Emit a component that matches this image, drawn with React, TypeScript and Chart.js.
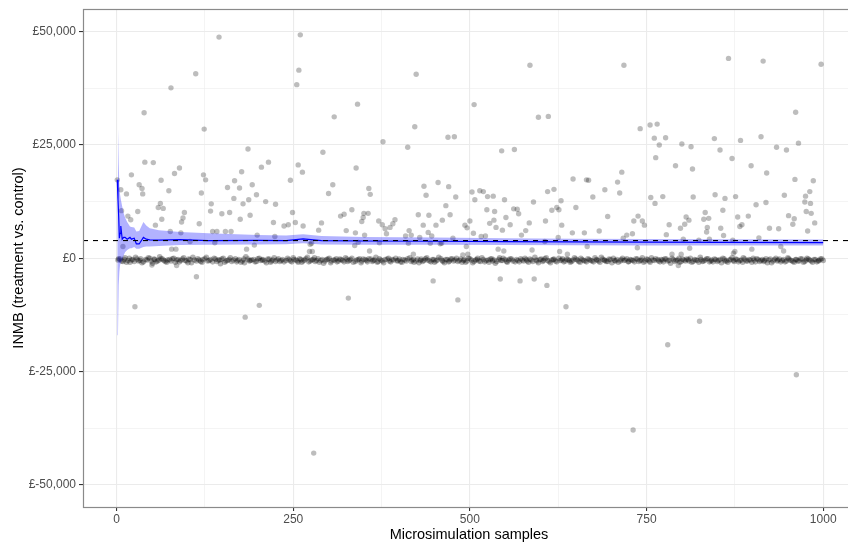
import React, { useEffect, useRef } from "react";
import { Chart, registerables } from "chart.js";

Chart.register(...registerables);

// ---- Axis ticks ----
const xMajorTicks = [0, 250, 500, 750, 1000];
const xMinorTicks = [125, 375, 625, 875];
const yMajorTicks = [-50000, -25000, 0, 25000, 50000];
const yMinorTicks = [-37500, -12500, 12500, 37500];

// ---- Reference line (dashed) ----
const thresholdValue = 3900;

// ---- Running mean and its interval [sample index] ----
const ciSamples = [1, 2, 3, 4, 5, 6, 8, 10, 12, 15, 19, 21, 25, 28, 32, 38, 42, 47, 60, 90, 130, 200, 240, 264, 290, 350, 450, 550, 650, 750, 850, 1000];
const meanValues = [17300, 13000, 9200, 4400, 5500, 7100, 4200, 4600, 4600, 4200, 4600, 4200, 4400, 3150, 3150, 4600, 4200, 4050, 4000, 4100, 3900, 3950, 3900, 4250, 3900, 3800, 3750, 3650, 3600, 3550, 3500, 3450];
const ciLower = [17300, -17000, -6000, -3000, -1500, -1000, -400, 600, 1300, 1800, 2200, 2200, 2500, 2100, 2100, 2500, 2600, 2600, 2700, 2900, 3000, 3050, 3100, 3300, 3050, 3000, 2950, 2900, 2850, 2800, 2800, 2800];
const ciUpper = [17300, 29000, 21000, 16000, 14000, 13000, 11400, 10000, 9000, 8000, 7000, 6900, 6800, 5900, 6000, 8000, 7200, 6600, 6200, 5800, 5500, 5150, 5000, 5300, 4900, 4700, 4550, 4400, 4300, 4250, 4200, 4150];

// ---- Samples away from zero [sample, INMB £] ----
const spreadSamples: [number, number][] = [
  [1, 17300], [6, 15100], [7, 10500], [9, 2600], [14, 14200], [16, 9300], [20, 8500], [21, 18400], [30, 10300], [32, 16200],
  [36, 15400], [37, 14200], [39, 32100], [40, 21200], [52, 21100], [55, 7300], [59, 11200], [62, 12100], [63, 17200], [64, 8600],
  [66, 11000], [74, 14900], [76, 5900], [77, 37600], [78, 2000], [82, 18700], [84, 2000], [89, 19900], [91, 5600], [92, 8000],
  [94, 8900], [96, 10100], [104, 3700], [112, 40700], [117, 7600], [120, 14400], [123, 18400], [124, 28500], [126, 17300], [133, 10400],
  [134, 12000], [136, 5900], [139, 3400], [142, 5900], [145, 48800], [149, 9800], [154, 5900], [157, 15600], [160, 10100], [162, 5900],
  [166, 13200], [167, 17100], [174, 15500], [175, 8600], [177, 19100], [179, 12000], [184, 2000], [186, 24100], [187, 12900], [189, 9500],
  [192, 16200], [195, 2900], [198, 14000], [199, 5100], [205, 20100], [211, 12500], [215, 21200], [222, 7900], [224, 4800], [225, 11900],
  [237, 7100], [243, 7400], [246, 17200], [249, 10100], [253, 7900], [255, 38300], [257, 20600], [258, 41500], [260, 49300], [263, 19000],
  [264, 7100], [273, 1500], [274, 3100], [276, 3300], [277, 1500], [286, 6200], [290, 7800], [292, 23400], [300, 14300], [306, 16200],
  [308, 31200], [317, 9300], [322, 9700], [325, 6100], [333, 10700], [337, 2800], [338, 5600], [339, 19900], [341, 34000], [342, 3500],
  [347, 8100], [349, 9000], [350, 9900], [351, 5100], [356, 9900], [357, 15400], [358, 1600], [359, 14100], [371, 8200], [372, 3400],
  [376, 7400], [377, 25700], [380, 6500], [382, 5400], [387, 6800], [391, 7600], [394, 8500], [409, 4900], [412, 24500], [413, 3300],
  [414, 6100], [417, 5100], [420, 900], [422, 29000], [424, 40600], [427, 9600], [429, 4600], [434, 7300], [435, 15900], [438, 13900],
  [441, 5700], [442, 9500], [444, 3300], [446, 4900], [452, 7300], [455, 16700], [458, 3200], [460, 3300], [461, 8400], [466, 11600],
  [469, 26700], [470, 15800], [472, 9600], [476, 4400], [478, 26800], [480, 13500], [490, 700], [493, 7300], [495, 2600], [496, 6700],
  [497, 900], [500, 8200], [503, 14600], [505, 5500], [506, 33900], [507, 12900], [514, 14900], [516, 4800], [519, 14700], [522, 4900],
  [524, 10700], [525, 13600], [528, 7700], [533, 13700], [534, 8400], [535, 10300], [537, 6800], [540, 2000], [545, 23700], [546, 6200],
  [548, 1600], [549, 12900], [551, 9000], [557, 7400], [562, 10900], [563, 24000], [567, 10800], [569, 9800], [573, 5100], [579, 6100],
  [584, 7800], [585, 42600], [588, 1800], [590, 12400], [597, 31100], [606, 3700], [607, 8200], [610, 14700], [611, 31300], [616, 10600],
  [619, 15200], [623, 11200], [625, 4600], [626, 10700], [627, 1500], [629, 12700], [630, 7300], [638, 900], [645, 5600], [646, 17500],
  [650, 11200], [662, 5600], [665, 17300], [666, 2600], [668, 17200], [674, 13500], [683, 6000], [691, 15100], [695, 9200], [709, 16800],
  [712, 14400], [715, 19000], [717, 4400], [718, 42600], [722, 5100], [730, 5400], [732, 8200], [737, 2300], [738, 9300], [741, 28600],
  [744, 8200], [747, 7300], [755, 29400], [756, 13400], [761, 26500], [762, 12100], [763, 22200], [765, 29600], [768, 25000], [773, 13600],
  [777, 26600], [778, 5200], [782, 7400], [786, 900], [791, 20400], [798, 6600], [799, 900], [800, 25200], [802, 4200], [804, 7500],
  [806, 9100], [810, 8400], [811, 2200], [813, 24600], [815, 19700], [816, 13500], [824, 4000], [831, 8600], [833, 10100], [835, 5800],
  [836, 6800], [838, 8800], [839, 4200], [846, 26400], [847, 14000], [854, 23900], [855, 6600], [858, 10600], [859, 5000], [861, 13200],
  [866, 44100], [871, 22000], [872, 4000], [873, 1100], [875, 1500], [876, 13600], [879, 9100], [882, 7000], [883, 26000], [885, 7400],
  [894, 9300], [898, 20400], [899, 2000], [905, 11800], [909, 4500], [912, 26800], [915, 43500], [919, 12300], [920, 18800], [924, 6600],
  [934, 24500], [937, 6500], [940, 2600], [944, 1600], [945, 13900], [948, 23900], [951, 9400], [957, 7500], [959, 8700], [960, 17400],
  [961, 32200], [965, 25400], [974, 12400], [975, 13700], [976, 10300], [978, 6000], [981, 14700], [982, 12100], [983, 9900], [986, 17100],
  [988, 7800], [997, 42800],
  // below zero
  [26, -10700], [50, -1500], [85, -1600], [113, -4100], [182, -13000], [202, -10400], [279, -43000], [328, -8800], [448, -5000], [483, -9200],
  [543, -4600], [571, -5000], [591, -4600], [609, -6000], [636, -10700], [731, -37900], [738, -6500], [780, -19100], [795, -1600], [825, -13900],
  [962, -25700],
];

// ---- Samples close to zero (dense band), part A [sample, INMB £] ----
const nearZeroA: [number, number][] = [
  [2, -400], [5, -200], [9, -700], [12, 100], [16, -500], [19, -900], [23, -300], [27, 200], [31, -600], [34, -100],
  [38, -800], [43, -400], [47, 0], [51, -1100], [54, -300], [58, -600], [61, 300], [65, -200], [69, -700], [72, -400],
  [79, -100], [83, -900], [87, -300], [91, -500], [95, 100], [99, -600], [102, -200], [106, -1000], [110, -400], [115, -100],
  [119, -700], [122, -300], [127, 200], [131, -500], [136, -800], [140, -200], [144, -400], [147, -1200], [151, 0], [155, -600],
  [159, -300], [163, -700], [168, -100], [171, -500], [176, -900], [180, -200], [183, 300], [188, -600], [191, -400], [196, -800],
  [200, -100], [204, -500], [207, -300], [212, -1000], [216, -200], [219, -600], [223, 100], [227, -400], [231, -700], [235, -300],
  [240, -500], [242, 0], [248, -800], [251, -300], [256, -600], [259, -100], [262, -900], [266, -400], [270, 200], [274, -600],
  [278, -300], [281, -700], [285, -100], [289, -500], [293, -1100], [297, -300], [301, 0], [304, -600], [309, -400], [312, -800],
  [316, -200], [320, -500], [324, 100], [327, -700], [331, -300], [335, -900], [340, -400], [344, -100], [347, -600], [352, -300],
  [355, -800], [360, -200], [363, -500], [367, 200], [370, -700], [374, -400], [378, -1000], [383, -200], [386, -600], [390, -300],
  [395, 0], [398, -500], [402, -800], [405, -300], [410, -600], [415, 100], [418, -400], [421, -900], [426, -200], [430, -500],
  [433, -700], [437, -100], [440, -400], [445, -800], [449, -300], [452, -600], [456, 200], [461, -500], [464, -1000], [468, -300],
  [471, -600], [475, -100], [479, -400], [483, -700], [487, -200], [491, -500], [494, -900], [498, 0], [502, -400], [506, -700],
  [510, -300], [513, -600], [517, 100], [521, -800], [526, -400], [529, -200], [532, -600], [536, -1100], [541, -300], [544, -500],
  [547, 0], [552, -700], [555, -400], [559, -200], [564, -800], [568, -500], [572, -100], [576, -600], [580, -300], [583, -900],
  [587, -400], [592, 200], [595, -600], [599, -300], [603, -700], [606, -100], [610, -500], [614, -1000], [618, -300], [621, -600],
  [626, 0], [630, -400], [633, -800], [637, -200], [641, -500], [644, -700], [648, 100], [652, -400], [656, -900], [659, -300],
  [663, -600], [667, -100], [671, -500], [675, -800], [679, -300], [682, -600], [686, 200], [690, -400], [693, -700], [697, -200],
  [701, -1000], [705, -500], [708, -300], [713, -600], [716, 0], [720, -400], [724, -800], [727, -300], [731, -500], [735, -100],
  [739, -700], [743, -400], [746, -900], [750, -200], [754, -600], [757, 100], [761, -500], [766, -300], [769, -800], [773, -400],
  [776, -100], [780, -600], [784, -1100], [788, -300], [792, -500], [796, 0], [799, -700], [803, -400], [807, -200], [810, -600],
  [814, -900], [818, -300], [822, -500], [826, 200], [829, -700], [833, -400], [837, -100], [841, -600], [844, -800], [848, -300],
  [852, -500], [856, -1000], [860, -200], [863, -600], [867, -400], [871, 100], [874, -700], [878, -300], [882, -500], [886, -900],
  [889, -200], [893, -600], [897, -400], [901, 0], [904, -800], [908, -300], [912, -500], [916, -700], [919, -100], [923, -400],
  [927, -1000], [931, -300], [935, -600], [938, -200], [942, -500], [946, -800], [950, 100], [953, -400], [957, -700], [961, -300],
  [964, -600], [968, -100], [972, -900], [976, -400], [979, -200], [983, -600], [987, -300], [991, -800], [994, -500], [998, -100],
];

// ---- Samples close to zero (dense band), part B [sample, INMB £] ----
const nearZeroB: [number, number][] = [
  [3, -100], [7, -600], [11, -300], [14, -900], [18, 0], [21, -400], [25, -700], [29, -200], [33, -500], [36, -1000],
  [41, -300], [45, 100], [49, -600], [53, -200], [56, -800], [60, -400], [63, -100], [67, -500], [71, -900], [75, -300],
  [77, -600], [81, 0], [85, -400], [89, -800], [93, -200], [97, -500], [101, -1000], [104, -300], [108, 200], [113, -600],
  [117, -400], [121, -900], [125, -100], [129, -600], [133, -300], [138, 0], [142, -700], [146, -400], [149, -200], [153, -900],
  [157, -500], [161, 100], [165, -400], [170, -800], [173, -300], [178, -600], [181, -1000], [186, -200], [189, -500], [194, -300],
  [198, -700], [202, 0], [206, -400], [210, -600], [214, -200], [218, -900], [221, -400], [225, -700], [229, -100], [233, -500],
  [237, -800], [244, -300], [246, -600], [250, 100], [254, -400], [257, -900], [261, -300], [264, -600], [268, -100], [272, -800],
  [276, -400], [280, 100], [283, -500], [287, -900], [291, -300], [295, -600], [299, -200], [303, -1000], [307, -400], [311, -100],
  [314, -600], [318, -300], [322, -800], [326, -200], [329, -500], [333, 0], [338, -700], [342, -300], [346, -1000], [349, -200],
  [354, -500], [357, -100], [362, -700], [365, -400], [369, -900], [372, -100], [376, -600], [380, -300], [385, 0], [388, -800],
  [392, -400], [397, -600], [400, -200], [404, -900], [408, -400], [412, -100], [417, -700], [420, -300], [424, -600], [428, -1000],
  [431, -200], [435, -500], [439, 100], [443, -600], [447, -300], [450, -900], [454, -400], [459, -100], [462, -700], [466, -300],
  [470, -800], [473, -200], [477, -600], [481, 0], [485, -500], [489, -900], [492, -300], [496, -600], [500, -100], [504, -1000],
  [508, -400], [511, 0], [515, -700], [519, -300], [523, -500], [527, -900], [531, -100], [534, -400], [538, -700], [542, 100],
  [546, -500], [550, -300], [553, -900], [557, -100], [561, -600], [566, -300], [570, -800], [574, -400], [578, 0], [581, -600],
  [585, -200], [589, -700], [594, -400], [597, -1000], [601, -200], [604, -500], [608, 100], [612, -700], [616, -400], [619, -200],
  [623, -800], [628, -500], [631, -100], [635, -600], [639, -300], [642, -900], [646, -400], [650, -200], [654, -700], [657, 0],
  [661, -500], [665, -800], [669, -300], [673, -600], [677, 100], [680, -400], [684, -900], [688, -200], [691, -500], [695, -700],
  [699, -300], [703, 0], [706, -600], [710, -900], [714, -300], [718, -500], [722, -100], [725, -700], [729, -400], [733, -800],
  [737, -200], [741, -500], [744, 100], [748, -600], [752, -300], [755, -900], [759, -400], [763, -100], [767, -600], [771, -300],
  [774, -800], [778, -200], [782, -500], [786, 0], [790, -700], [794, -400], [797, -900], [801, -200], [805, -600], [809, -300],
  [812, 0], [816, -700], [820, -400], [824, -900], [827, -300], [831, -600], [835, -100], [839, -800], [842, -400], [846, -200],
  [850, -700], [854, -300], [858, 0], [861, -600], [865, -900], [869, -300], [873, -500], [876, -200], [880, -800], [884, -400],
  [887, 100], [891, -600], [895, -300], [899, -900], [902, -400], [906, -100], [910, -700], [914, -300], [917, -500], [921, -1000],
  [925, -200], [929, -600], [933, 0], [936, -400], [940, -800], [944, -300], [948, -600], [951, -100], [955, -500], [959, -900],
  [962, -300], [966, -600], [970, -200], [974, -700], [977, 0], [981, -400], [985, -900], [989, -300], [993, -600], [996, -200],
  [1000, -500],
];

const X_MIN = -47.5;
const X_MAX = 1045;
const Y_MIN = -54900;
const Y_MAX = 55000;

const FONT = "'Liberation Sans', Arial, Helvetica, sans-serif";

const panelBorder = {
  id: "panelBorder",
  afterDatasetsDraw(chart: any) {
    const { ctx, chartArea } = chart;
    ctx.save();
    ctx.strokeStyle = "#8a8a8a";
    ctx.lineWidth = 1.2;
    ctx.strokeRect(chartArea.left + 0.5, chartArea.top + 0.5, chartArea.right - chartArea.left + 20, chartArea.bottom - chartArea.top);
    ctx.restore();
  },
};

export default function App() {
  const canvasRef = useRef<HTMLCanvasElement | null>(null);

  useEffect(() => {
    if (!canvasRef.current) return;
    const pairs = (arr: [number, number][]) => arr.map(([x, y]) => ({ x, y }));
    const meanData = ciSamples.map((s, i) => ({ x: s, y: meanValues[i] }));
    const lowerData = ciSamples.map((s, i) => ({ x: s, y: ciLower[i] }));
    const upperData = ciSamples.map((s, i) => ({ x: s, y: ciUpper[i] }));
    const xAll = [...xMajorTicks, ...xMinorTicks].sort((a, b) => a - b);
    const yAll = [...yMajorTicks, ...yMinorTicks].sort((a, b) => a - b);

    const chart = new Chart(canvasRef.current, {
      type: "scatter",
      data: {
        datasets: [
          {
            label: "threshold",
            data: [{ x: X_MIN, y: thresholdValue }, { x: X_MAX, y: thresholdValue }],
            showLine: true,
            borderColor: "#000000",
            borderWidth: 1.1,
            borderDash: [5, 5],
            pointRadius: 0,
            order: 0,
          } as any,
          {
            label: "mean",
            data: meanData,
            showLine: true,
            borderColor: "#0000ff",
            borderWidth: 1.2,
            pointRadius: 0,
            tension: 0,
            order: 1,
          } as any,
          {
            label: "lower",
            data: lowerData,
            showLine: true,
            borderColor: "transparent",
            borderWidth: 0.01,
            pointRadius: 0,
            fill: false,
            order: 2,
          } as any,
          {
            label: "upper",
            data: upperData,
            showLine: true,
            borderColor: "transparent",
            borderWidth: 0.01,
            pointRadius: 0,
            fill: "-1",
            backgroundColor: "rgba(0,0,255,0.3)",
            order: 3,
          } as any,
          {
            label: "spread",
            data: pairs(spreadSamples),
            pointRadius: 2.7,
            pointBorderWidth: 0,
            pointBackgroundColor: "rgba(0,0,0,0.26)",
            backgroundColor: "rgba(0,0,0,0.26)",
            borderColor: "transparent",
            order: 4,
          } as any,
          {
            label: "nearZero",
            data: [...pairs(nearZeroA), ...pairs(nearZeroB)],
            pointRadius: 2.8,
            pointBorderWidth: 0,
            pointBackgroundColor: "rgba(0,0,0,0.3)",
            backgroundColor: "rgba(0,0,0,0.3)",
            borderColor: "transparent",
            order: 5,
          } as any,
        ],
      },
      options: {
        responsive: false,
        animation: false,
        events: [],
        devicePixelRatio: 1,
        layout: { padding: { top: 9, right: 0, bottom: 0, left: 0 } },
        plugins: {
          legend: { display: false },
          tooltip: { enabled: false },
        },
        scales: {
          x: {
            type: "linear",
            min: X_MIN,
            max: X_MAX,
            afterBuildTicks: (scale: any) => {
              scale.ticks = xAll.map((v) => ({ value: v }));
            },
            afterFit: (scale: any) => {
              scale.height = 37;
              scale.paddingLeft = 0;
              scale.paddingRight = 0;
            },
            border: { display: false },
            grid: {
              color: "#ebebeb",
              lineWidth: (c: any) => (c.tick && xMajorTicks.includes(c.tick.value) ? 1.1 : 0.55),
              tickColor: (c: any) => (c.tick && xMajorTicks.includes(c.tick.value) ? "#333333" : "rgba(0,0,0,0)"),
              tickLength: 4,
              tickWidth: 1.1,
              drawTicks: true,
            },
            ticks: {
              autoSkip: false,
              maxRotation: 0,
              padding: 1,
              color: "#4d4d4d",
              font: { family: FONT, size: 12 },
              callback: (v: any) => (xMajorTicks.includes(Number(v)) ? String(v) : ""),
            },
            title: {
              display: true,
              text: "Microsimulation samples",
              color: "#000000",
              font: { family: FONT, size: 14.5 },
              padding: { top: 0, bottom: 0 },
            },
          },
          y: {
            type: "linear",
            min: Y_MIN,
            max: Y_MAX,
            afterBuildTicks: (scale: any) => {
              scale.ticks = yAll.map((v) => ({ value: v }));
            },
            afterFit: (scale: any) => {
              scale.width = 83;
              scale.paddingTop = 0;
              scale.paddingBottom = 0;
            },
            border: { display: false },
            grid: {
              color: "#ebebeb",
              lineWidth: (c: any) => (c.tick && yMajorTicks.includes(c.tick.value) ? 1.1 : 0.55),
              tickColor: (c: any) => (c.tick && yMajorTicks.includes(c.tick.value) ? "#333333" : "rgba(0,0,0,0)"),
              tickLength: 4,
              tickWidth: 1.1,
              drawTicks: true,
            },
            ticks: {
              autoSkip: false,
              padding: 3,
              color: "#4d4d4d",
              font: { family: FONT, size: 12 },
              callback: (v: any) => {
                const n = Number(v);
                return yMajorTicks.includes(n) ? "£" + n.toLocaleString("en-US") : "";
              },
            },
            title: {
              display: true,
              text: "INMB (treatment vs. control)",
              color: "#000000",
              font: { family: FONT, size: 14.5 },
              padding: { top: 10, bottom: 0 },
            },
          },
        },
      } as any,
      plugins: [panelBorder],
    });
    return () => chart.destroy();
  }, []);

  return (
    <div
      style={{
        position: "fixed",
        left: 0,
        top: 0,
        width: 848,
        height: 544,
        overflow: "hidden",
        background: "#ffffff",
      }}
    >
      <canvas ref={canvasRef} width={859} height={544} style={{ display: "block", width: 859, height: 544 }} />
    </div>
  );
}
